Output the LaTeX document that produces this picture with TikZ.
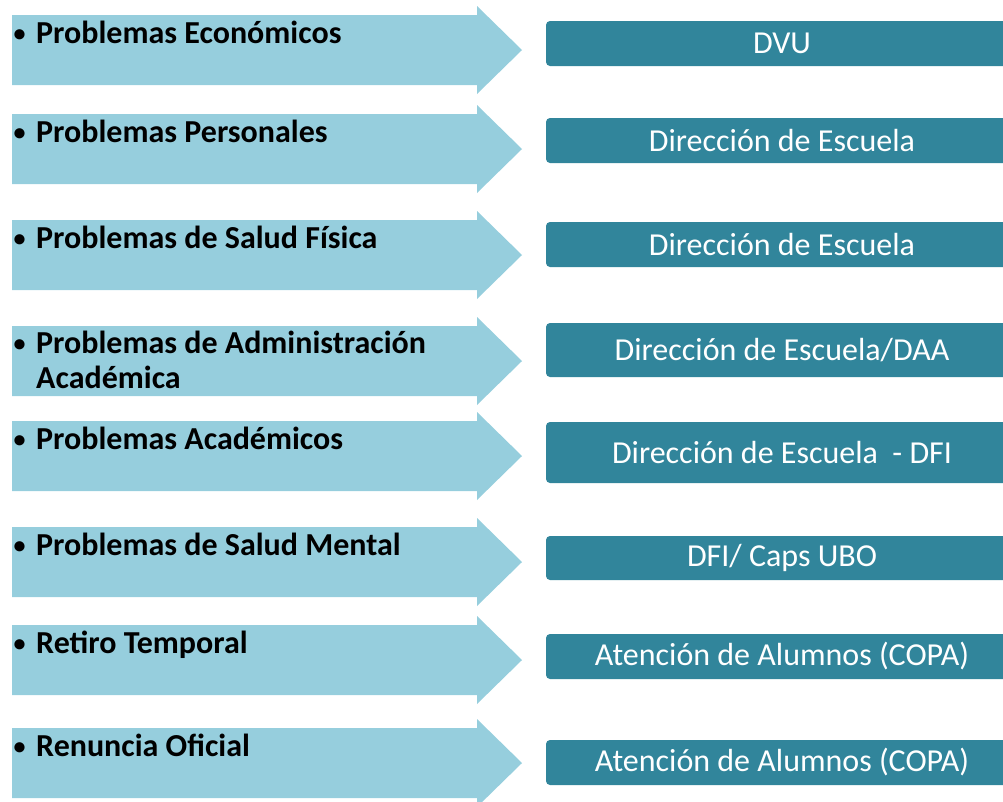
\documentclass[tikz,border=0pt]{standalone}
\usepackage{fontspec}
\setmainfont{Carlito}
\definecolor{arrowblue}{RGB}{150,206,221}
\definecolor{boxteal}{RGB}{49,133,155}
\newcommand{\bulletmark}{\makebox[24pt][l]{\hspace{1.5pt}\raisebox{2pt}{\scalebox{0.75}{\textbullet}}}}

\begin{document}
\begin{tikzpicture}
[x=1pt,y=-1pt,
 problem/.style={anchor=base west,inner sep=0pt,align=left,
   font=\bfseries\fontsize{32}{35}\selectfont},
 office/.style={fill=boxteal,rounded corners=4pt,text=white,inner sep=0pt,
   minimum width=472pt,font=\fontsize{32}{36}\selectfont}]
  \useasboundingbox (0,0) rectangle (1003,801);

  % light blue arrows behind the problems
  \foreach \t in {15,114,220,326,421,527,625,728}
    \fill[arrowblue] (12,\t) -- (477,\t) -- (477,\t-9) -- (522,\t+35)
      -- (477,\t+79) -- (477,\t+70) -- (12,\t+70) -- cycle;

  \node[problem] (p1) at (12,43)  {\bulletmark Problemas Económicos};
  \node[problem] (p2) at (12,142) {\bulletmark Problemas Personales};
  \node[problem] (p3) at (12,248) {\bulletmark Problemas de Salud Física};
  % base of a two-line node is its last line
  \node[problem] (p4) at (12,388) {\bulletmark Problemas de Administración\\\hspace*{24pt}Académica};
  \node[problem] (p5) at (12,449) {\bulletmark Problemas Académicos};
  \node[problem] (p6) at (12,555) {\bulletmark Problemas de Salud Mental};
  \node[problem] (p7) at (12,653) {\bulletmark Retiro Temporal};
  \node[problem] (p8) at (12,756) {\bulletmark Renuncia Oficial};

  % teal boxes with the offices
  \node[office,minimum height=45pt] (o1) at (782,43.5)  {DVU};
  \node[office,minimum height=45pt] (o2) at (782,140.5) {Dirección de Escuela};
  \node[office,minimum height=45pt] (o3) at (782,244.5) {Dirección de Escuela};
  \node[office,minimum height=54pt] (o4) at (782,350)   {Dirección de Escuela/DAA};
  \node[office,minimum height=61pt] (o5) at (782,452.5) {Dirección de Escuela~~- DFI};
  \node[office,minimum height=44pt] (o6) at (782,558)   {DFI/ Caps UBO};
  \node[office,minimum height=45pt] (o7) at (782,656.5) {Atención de Alumnos (COPA)};
  \node[office,minimum height=45pt] (o8) at (782,762.5) {Atención de Alumnos (COPA)};

\end{tikzpicture}
\end{document}
